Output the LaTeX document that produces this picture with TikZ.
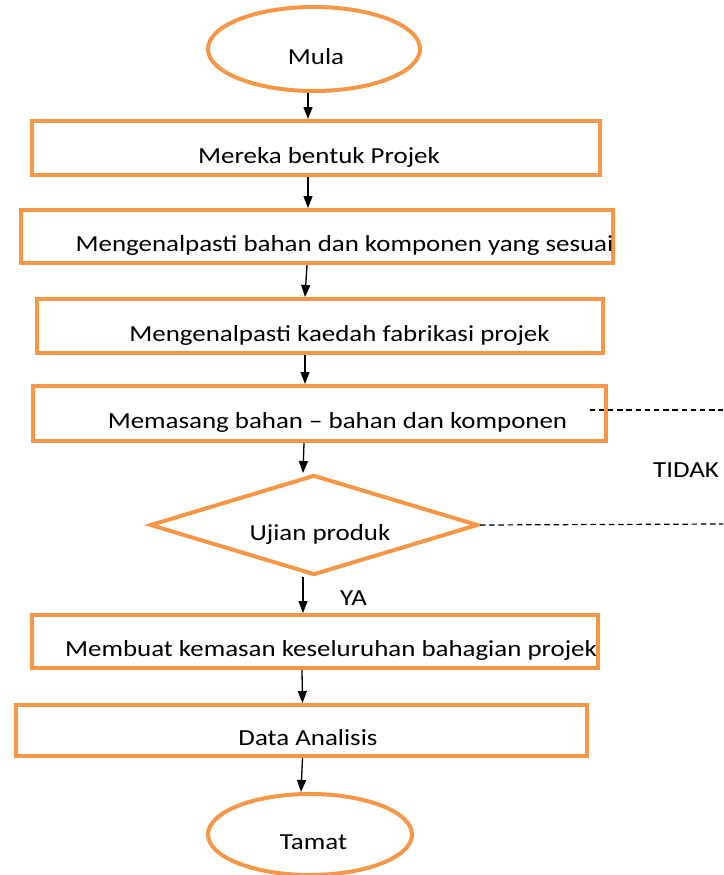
\documentclass[tikz,border=0pt]{standalone}
\usepackage{fontspec}
\setmainfont[FakeStretch=1.17]{Carlito}
\usetikzlibrary{shapes.geometric, arrows.meta, positioning, calc}
\definecolor{oren}{HTML}{F79646}

\begin{document}
\begin{tikzpicture}[x=1pt,y=-1pt,
  every node/.style={font=\fontsize{23}{27}\selectfont, inner sep=0pt, text height=30pt, text depth=0pt},
  proses/.style={rectangle, draw=oren, line width=4pt},
  terminal/.style={ellipse, draw=oren, line width=4pt},
  keputusan/.style={diamond, draw=oren, line width=4pt, shape aspect=3.28},
  panah/.style={-{Triangle[length=12pt,width=9pt]}, line width=1.3pt},
  putus/.style={dash pattern=on 5.5pt off 3.7pt, line width=1.2pt},
  geser/.style={execute at begin node={\hspace*{#1}}}]
\useasboundingbox (0,0) rectangle (723,875);

% Langkah-langkah
\node[terminal, minimum width=212pt, minimum height=84pt, geser=4pt] (mula) at (314,49) {Mula};
\node[proses, minimum width=568pt, minimum height=54pt, geser=6pt] (reka) at (316,148) {Mereka bentuk Projek};
\node[proses, minimum width=570pt, minimum height=53pt, geser=55pt] (bahan) at (317,236.5) {Mengenalpasti bahan dan komponen yang sesuai};
\node[proses, minimum width=566pt, minimum height=54pt, geser=39pt] (kaedah) at (320,326) {Mengenalpasti kaedah fabrikasi projek};
\node[proses, minimum width=573pt, minimum height=55pt, geser=37pt] (pasang) at (319,413.5) {Memasang bahan – bahan dan komponen};
\node[keputusan, minimum width=328pt, minimum height=100pt, geser=12pt] (ujian) at (314,525) {Ujian produk};
\node[proses, minimum width=566pt, minimum height=53pt, geser=32pt] (kemas) at (315,641.5) {Membuat kemasan keseluruhan bahagian projek};
\node[proses, minimum width=571pt, minimum height=51pt, geser=13pt] (data) at (301.5,730.5) {Data Analisis};
\node[terminal, minimum width=204pt, minimum height=81pt, geser=7pt] (tamat) at (310,834.5) {Tamat};

% Anak panah
\draw[panah] ([xshift=-6pt]mula.south) -- ([xshift=-8pt]reka.north);
\draw[panah] ([xshift=-8pt]reka.south) -- ([xshift=-9pt]bahan.north);
\draw[panah] ([xshift=-10pt]bahan.south) -- ([xshift=-15pt]kaedah.north);
\draw[panah] ([xshift=-15pt]kaedah.south) -- ([xshift=-14pt]pasang.north);
\draw[panah] ([xshift=-15pt]pasang.south) -- ([xshift=-11pt]ujian.north);
\draw[panah] ([xshift=-11pt]ujian.south) -- ([xshift=-12pt]kemas.north);
\draw[panah] ([xshift=-13pt]kemas.south) -- ([xshift=1pt]data.north);
\draw[panah] ([xshift=1pt]data.south) -- ([xshift=-9pt]tamat.north);

% Jalan TIDAK
\coordinate (balik1) at (723,410);
\coordinate (balik2) at (723,524);
\draw[putus] ([xshift=-18pt,yshift=3.5pt]pasang.east) -- (balik1);
\draw[putus] (ujian.east) -- (balik2);
\node[anchor=base west] (tidak) at (653,477) {TIDAK};
\node[anchor=base west] (ya) at (340,605) {YA};
\end{tikzpicture}
\end{document}
